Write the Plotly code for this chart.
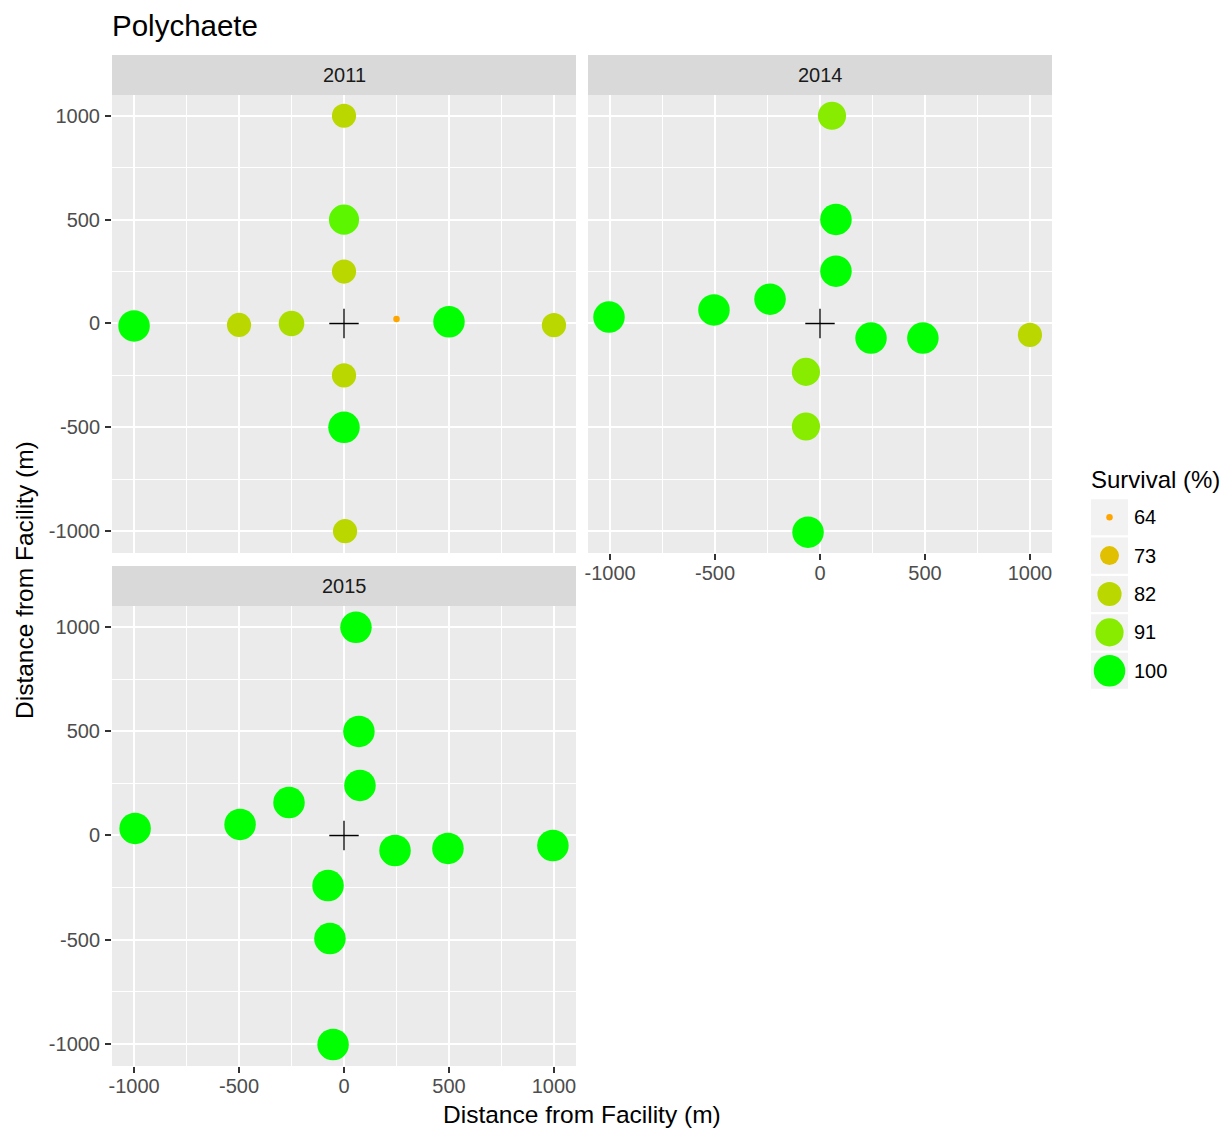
import numpy as np
import plotly.graph_objects as go

W, H = 1227, 1128

# ---- data: station offsets (m) and survival (%) per survey year ----
years = ["2011", "2014", "2015"]

x_2011 = [0, 0, 0, 0, 0, 5, -1000, -500, -250, 250, 500, 1000]
y_2011 = [1000, 500, 250, -250, -500, -1000, -12, -7, 0, 21, 8, -8]
s_2011 = [82, 96, 82, 82, 100, 82, 100, 82, 85, 64, 100, 82]

x_2014 = [57, 76, 76, -1005, -505, -238, 243, 490, 1000, -67, -67, -57]
y_2014 = [1000, 501, 252, 31, 65, 117, -70, -70, -55, -233, -496, -1005]
s_2014 = [91, 100, 100, 100, 100, 100, 100, 100, 82, 91, 91, 100]

x_2015 = [57, 71, 76, -995, -495, -262, 243, 495, 995, -76, -67, -52]
y_2015 = [998, 499, 240, 34, 53, 158, -72, -62, -48, -240, -494, -1002]
s_2015 = [100, 100, 100, 100, 100, 100, 100, 100, 100, 100, 100, 100]

legend_breaks = [64, 73, 82, 91, 100]
axis_ticks = [-1000, -500, 0, 500, 1000]

S_MIN, S_MAX = 64, 100
FONT = "Liberation Sans, Arial, sans-serif"


# ---- colour scale: orange -> green interpolated in CIE Lab ----
def _hex_rgb(h):
    h = h.lstrip("#")
    return [int(h[i:i + 2], 16) / 255 for i in (0, 2, 4)]


def _to_lab(rgb):
    lin = [c / 12.92 if c <= 0.04045 else ((c + 0.055) / 1.055) ** 2.4 for c in rgb]
    r, g, b = lin
    X = (0.4124 * r + 0.3576 * g + 0.1805 * b) / 0.95047
    Y = (0.2126 * r + 0.7152 * g + 0.0722 * b) / 1.0
    Z = (0.0193 * r + 0.1192 * g + 0.9505 * b) / 1.08883
    f = lambda t: t ** (1 / 3) if t > 0.008856 else 7.787 * t + 16 / 116
    fx, fy, fz = f(X), f(Y), f(Z)
    return [116 * fy - 16, 500 * (fx - fy), 200 * (fy - fz)]


def _from_lab(lab):
    L, a, b = lab
    fy = (L + 16) / 116
    fx = fy + a / 500
    fz = fy - b / 200
    inv = lambda t: t ** 3 if t ** 3 > 0.008856 else (t - 16 / 116) / 7.787
    X, Y, Z = inv(fx) * 0.95047, inv(fy), inv(fz) * 1.08883
    r = 3.2406 * X - 1.5372 * Y - 0.4986 * Z
    g = -0.9689 * X + 1.8758 * Y + 0.0415 * Z
    bb = 0.0557 * X - 0.2040 * Y + 1.0570 * Z
    out = []
    for c in (r, g, bb):
        c = min(max(c, 0), 1)
        c = 12.92 * c if c <= 0.0031308 else 1.055 * c ** (1 / 2.4) - 0.055
        out.append(int(round(min(max(c, 0), 1) * 255)))
    return "rgb({},{},{})".format(*out)


lab_lo, lab_hi = _to_lab(_hex_rgb("#FFA500")), _to_lab(_hex_rgb("#00FF00"))
colorscale = []
for t in np.linspace(0, 1, 21):
    lab = [lo + (hi - lo) * t for lo, hi in zip(lab_lo, lab_hi)]
    colorscale.append([float(t), _from_lab(lab)])


def point_size(vals):
    # area scale: radius grows with sqrt of the rescaled value (range 1..6)
    out = []
    for v in vals:
        t = (v - S_MIN) / (S_MAX - S_MIN)
        out.append(5.0 * (1 + 5 * np.sqrt(max(t, 0))) + 1.5)
    return out


def px_x(p):
    return p / W


def px_y(p):
    return 1 - p / H


# panel rectangles in pixels: (left, right, top, bottom)
panels = {
    "2011": (112, 576, 95, 553),
    "2014": (588, 1052, 95, 553),
    "2015": (112, 576, 606, 1066),
}
strips = {
    "2011": (112, 576, 55, 95),
    "2014": (588, 1052, 55, 95),
    "2015": (112, 576, 566, 606),
}
data = {
    "2011": (x_2011, y_2011, s_2011),
    "2014": (x_2014, y_2014, s_2014),
    "2015": (x_2015, y_2015, s_2015),
}
show_x = {"2011": False, "2014": True, "2015": True}
show_y = {"2011": True, "2014": False, "2015": True}

fig = go.Figure()
layout = dict(
    width=W, height=H,
    margin=dict(l=0, r=0, t=0, b=0, pad=0),
    paper_bgcolor="white", plot_bgcolor="white",
    showlegend=False,
    font=dict(family=FONT),
)
shapes, annotations = [], []

for i, yr in enumerate(years, start=1):
    sfx = "" if i == 1 else str(i)
    xid, yid = "x" + sfx, "y" + sfx
    l, r, t, b = panels[yr]
    xs, ys, ss = data[yr]
    common = dict(
        showgrid=True, gridcolor="white", gridwidth=2,
        zeroline=False, showline=False, automargin=False,
        tickvals=axis_ticks, ticktext=[str(v) for v in axis_ticks],
        minor=dict(tickvals=[-750, -250, 250, 750], showgrid=True,
                   gridcolor="white", gridwidth=1, ticks=""),
        tickfont=dict(family=FONT, size=20, color="#4D4D4D"),
        tickcolor="#333333", tickwidth=1.5, ticklen=6,
        fixedrange=True,
    )
    layout["xaxis" + sfx] = dict(
        common, domain=[px_x(l), px_x(r)], range=[-1105, 1105],
        anchor=yid, ticklabelstandoff=-4,
        showticklabels=show_x[yr], ticks="outside" if show_x[yr] else "",
    )
    layout["yaxis" + sfx] = dict(
        common, domain=[px_y(b), px_y(t)], range=[-1105, 1100],
        anchor=xid, ticklabelstandoff=1,
        showticklabels=show_y[yr], ticks="outside" if show_y[yr] else "",
    )
    # grey panel background beneath gridlines
    shapes.append(dict(type="rect", xref=xid + " domain", yref=yid + " domain",
                       x0=0, x1=1, y0=0, y1=1, fillcolor="#EBEBEB",
                       line=dict(width=0), layer="below"))
    # strip header
    sl, sr, st, sb = strips[yr]
    shapes.append(dict(type="rect", xref="paper", yref="paper",
                       x0=px_x(sl), x1=px_x(sr), y0=px_y(sb), y1=px_y(st),
                       fillcolor="#D9D9D9", line=dict(width=0)))
    annotations.append(dict(text=yr, xref="paper", yref="paper",
                            x=px_x((sl + sr) / 2), y=px_y((st + sb) / 2),
                            xanchor="center", yanchor="middle", showarrow=False,
                            font=dict(family=FONT, size=20, color="#1A1A1A")))

    fig.add_trace(go.Scatter(
        x=xs, y=ys, xaxis=xid, yaxis=yid, mode="markers",
        marker=dict(size=point_size(ss), color=ss, colorscale=colorscale,
                    cmin=S_MIN, cmax=S_MAX, line=dict(width=0), opacity=1),
        hovertemplate="x=%{x}<br>y=%{y}<extra></extra>",
    ))
    # facility location
    fig.add_trace(go.Scatter(
        x=[0], y=[0], xaxis=xid, yaxis=yid, mode="markers",
        marker=dict(symbol="cross-thin", size=21, color="black",
                    line=dict(width=1.3, color="black")),
        hoverinfo="skip",
    ))

# ---- size/colour legend drawn on its own small axis ----
leg_l, leg_r, leg_t, leg_b = 1091, 1128, 498, 690
layout["xaxis4"] = dict(domain=[px_x(leg_l), px_x(leg_r)], range=[-1, 1],
                        visible=False, anchor="y4", fixedrange=True,
                        automargin=False)
layout["yaxis4"] = dict(domain=[px_y(leg_b), px_y(leg_t)], range=[4.5, -0.5],
                        visible=False, anchor="x4", fixedrange=True,
                        automargin=False)
for k in range(len(legend_breaks)):
    shapes.append(dict(type="rect", xref="x4", yref="y4", x0=-1, x1=1,
                       y0=k - 0.47, y1=k + 0.47, fillcolor="#F2F2F2",
                       line=dict(width=0), layer="below"))
    annotations.append(dict(text=str(legend_breaks[k]), xref="x4", yref="y4",
                            x=1, y=k, xanchor="left", yanchor="middle",
                            xshift=4, showarrow=False,
                            font=dict(family=FONT, size=20, color="black")))
fig.add_trace(go.Scatter(
    x=[0] * len(legend_breaks), y=list(range(len(legend_breaks))),
    xaxis="x4", yaxis="y4", mode="markers",
    marker=dict(size=point_size(legend_breaks), color=legend_breaks,
                colorscale=colorscale, cmin=S_MIN, cmax=S_MAX,
                line=dict(width=0), opacity=1),
    hoverinfo="skip",
))
annotations.append(dict(text="Survival (%)", xref="paper", yref="paper",
                        x=px_x(1089), y=px_y(480), xanchor="left",
                        yanchor="middle", showarrow=False,
                        font=dict(family=FONT, size=24, color="black")))

# ---- titles ----
annotations.append(dict(text="Polychaete", xref="paper", yref="paper",
                        x=px_x(110), y=px_y(25), xanchor="left",
                        yanchor="middle", showarrow=False,
                        font=dict(family=FONT, size=29.5, color="black")))
annotations.append(dict(text="Distance from Facility (m)", xref="paper",
                        yref="paper", x=px_x(582), y=px_y(1114),
                        xanchor="center", yanchor="middle", showarrow=False,
                        font=dict(family=FONT, size=24.5, color="black")))
annotations.append(dict(text="Distance from Facility (m)", xref="paper",
                        yref="paper", x=px_x(24), y=px_y(580),
                        xanchor="center", yanchor="middle", showarrow=False,
                        textangle=-90,
                        font=dict(family=FONT, size=24.5, color="black")))

layout["shapes"] = shapes
layout["annotations"] = annotations
fig.update_layout(**layout)
fig.write_html("out.html")
